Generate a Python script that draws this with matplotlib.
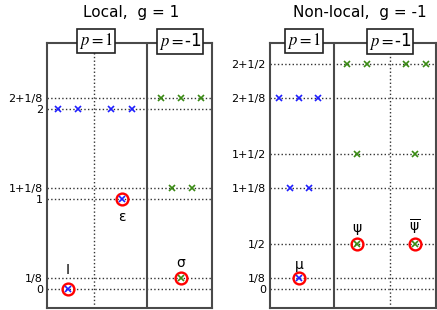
import numpy as np
import matplotlib
matplotlib.use('Agg')
import matplotlib.pyplot as plt

plt.rcParams['mathtext.fontset'] = 'dejavusans'

# ---- local, g = 1 ----
local_ticks = [0, 1/8, 1, 1 + 1/8, 2, 2 + 1/8]
local_ticklabels = ['0', '1/8', '1', '1+1/8', '2', '2+1/8']
local_blue_x = [11, 31, 64, 85]
local_blue_y = [2, 2, 2, 2]
local_green_x = [114, 134, 154, 125, 145]
local_green_y = [2 + 1/8, 2 + 1/8, 2 + 1/8, 1 + 1/8, 1 + 1/8]
local_prim_x = [21, 75, 134]
local_prim_y = [0, 1, 1/8]
local_prim_col = ['blue', 'blue', 'green']
local_names = ['I', 'ε', 'σ']
local_name_y = [0.21, 0.8, 0.29]

# ---- non-local, g = -1 ----
nl_ticks = [0, 1/8, 1/2, 1 + 1/8, 1 + 1/2, 2 + 1/8, 2 + 1/2]
nl_ticklabels = ['0', '1/8', '1/2', '1+1/8', '1+1/2', '2+1/8', '2+1/2']
nl_blue_x = [9, 29, 48, 20, 39]
nl_blue_y = [2 + 1/8, 2 + 1/8, 2 + 1/8, 1 + 1/8, 1 + 1/8]
nl_green_x = [77, 97, 136, 156, 87, 145]
nl_green_y = [2.5, 2.5, 2.5, 2.5, 1.5, 1.5]
nl_prim_x = [29, 87, 145]
nl_prim_y = [1/8, 1/2, 1/2]
nl_prim_col = ['blue', 'green', 'green']
nl_names = ['μ', 'ψ', r'$\overline{\mathrm{\psi}}$']
nl_name_y = [0.27, 0.68, 0.68]

BLUE = '#1f1fff'
GREEN = '#3a8a14'
FRAME = '#4a4a4a'
cols = {'blue': BLUE, 'green': GREEN}

W, H = 437, 310
fig = plt.figure(figsize=(W / 100, H / 100), dpi=100)
ylim = (-(308 - 289) / 90, (289 - 43) / 90)


def panel(x0, x1, xmax, divider, dotted, ticks, ticklabels,
          bx, by, gx, gy, px, py, pc, names, name_y, title, title_x, boxes):
    ax = fig.add_axes([x0 / W, (H - 308) / H, (x1 - x0) / W, 265 / H])
    ax.set_xlim(0, xmax)
    ax.set_ylim(*ylim)
    for y in ticks:
        ax.axhline(y, ls=':', lw=1, color='#333333', zorder=1)
    ax.axvline(dotted, ls=':', lw=1, color='#333333', zorder=1)
    ax.axvline(divider, lw=1.5, color=FRAME, zorder=2)
    ax.plot(bx, by, 'x', color=BLUE, ms=5, mew=1.2, zorder=3)
    ax.plot(gx, gy, 'x', color=GREEN, ms=5, mew=1.2, zorder=3)
    for x, y, c, n, ny in zip(px, py, pc, names, name_y):
        ax.plot(x, y, 'o', mfc='none', mec='red', ms=8.5, mew=1.7, zorder=4)
        ax.plot(x, y, 'x', color=cols[c], ms=5, mew=1.2, zorder=5)
        ax.text(x, ny, n, ha='center', va='center', fontsize=10)
    ax.set_xticks([])
    ax.set_yticks(ticks)
    ax.set_yticklabels(ticklabels, fontsize=8)
    ax.tick_params(axis='y', length=0, pad=3)
    for s in ax.spines.values():
        s.set_color(FRAME)
        s.set_linewidth(1.5)
    for xc, lab in boxes:
        ax.text(xc, ylim[1] + 0.02, lab, ha='center', va='center', fontsize=12,
                math_fontfamily='stix',
                bbox=dict(boxstyle='square,pad=0.12', fc='white', ec='#222222', lw=1.2),
                zorder=6, clip_on=False)
    fig.text(title_x / W, 1 - 12 / H, title, ha='center', va='center', fontsize=11)
    return ax


panel(47, 212, 165, 100, 47, local_ticks, local_ticklabels,
      local_blue_x, local_blue_y, local_green_x, local_green_y,
      local_prim_x, local_prim_y, local_prim_col, local_names, local_name_y,
      'Local,  g = 1', 131, [(49, r'$p=1$'), (133, r'$p=$-1')])

panel(270, 436, 166, 64, 120, nl_ticks, nl_ticklabels,
      nl_blue_x, nl_blue_y, nl_green_x, nl_green_y,
      nl_prim_x, nl_prim_y, nl_prim_col, nl_names, nl_name_y,
      'Non-local,  g = -1', 360, [(34, r'$p=1$'), (120, r'$p=$-1')])

fig.savefig('out.png', dpi=100)
